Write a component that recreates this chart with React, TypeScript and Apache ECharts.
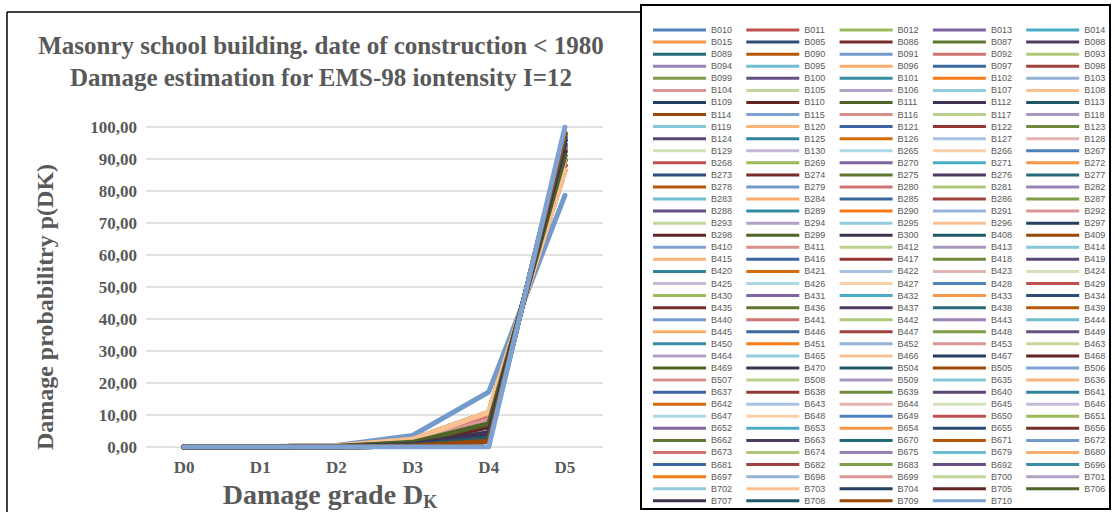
import React, { useEffect, useRef } from 'react';
import * as echarts from 'echarts';

const damageGrades = ['D0', 'D1', 'D2', 'D3', 'D4', 'D5'];

const buildings = [
  'B010', 'B011', 'B012', 'B013', 'B014',
  'B015', 'B085', 'B086', 'B087', 'B088',
  'B089', 'B090', 'B091', 'B092', 'B093',
  'B094', 'B095', 'B096', 'B097', 'B098',
  'B099', 'B100', 'B101', 'B102', 'B103',
  'B104', 'B105', 'B106', 'B107', 'B108',
  'B109', 'B110', 'B111', 'B112', 'B113',
  'B114', 'B115', 'B116', 'B117', 'B118',
  'B119', 'B120', 'B121', 'B122', 'B123',
  'B124', 'B125', 'B126', 'B127', 'B128',
  'B129', 'B130', 'B265', 'B266', 'B267',
  'B268', 'B269', 'B270', 'B271', 'B272',
  'B273', 'B274', 'B275', 'B276', 'B277',
  'B278', 'B279', 'B280', 'B281', 'B282',
  'B283', 'B284', 'B285', 'B286', 'B287',
  'B288', 'B289', 'B290', 'B291', 'B292',
  'B293', 'B294', 'B295', 'B296', 'B297',
  'B298', 'B299', 'B300', 'B408', 'B409',
  'B410', 'B411', 'B412', 'B413', 'B414',
  'B415', 'B416', 'B417', 'B418', 'B419',
  'B420', 'B421', 'B422', 'B423', 'B424',
  'B425', 'B426', 'B427', 'B428', 'B429',
  'B430', 'B431', 'B432', 'B433', 'B434',
  'B435', 'B436', 'B437', 'B438', 'B439',
  'B440', 'B441', 'B442', 'B443', 'B444',
  'B445', 'B446', 'B447', 'B448', 'B449',
  'B450', 'B451', 'B452', 'B453', 'B463',
  'B464', 'B465', 'B466', 'B467', 'B468',
  'B469', 'B470', 'B504', 'B505', 'B506',
  'B507', 'B508', 'B509', 'B635', 'B636',
  'B637', 'B638', 'B639', 'B640', 'B641',
  'B642', 'B643', 'B644', 'B645', 'B646',
  'B647', 'B648', 'B649', 'B650', 'B651',
  'B652', 'B653', 'B654', 'B655', 'B656',
  'B662', 'B663', 'B670', 'B671', 'B672',
  'B673', 'B674', 'B675', 'B679', 'B680',
  'B681', 'B682', 'B683', 'B692', 'B696',
  'B697', 'B698', 'B699', 'B700', 'B701',
  'B702', 'B703', 'B704', 'B705', 'B706',
  'B707', 'B708', 'B709', 'B710',
];

// Damage distributions p(D0..D5) in %
const damageProfiles = [
  [0.0, 0.0, 0.02, 0.3, 1.8, 97.88],
  [0.0, 0.0, 0.03, 0.45, 2.7, 96.82],
  [0.0, 0.01, 0.05, 0.6, 3.5, 95.84],
  [0.0, 0.01, 0.07, 0.8, 4.5, 94.62],
  [0.0, 0.01, 0.09, 1.0, 5.4, 93.5],
  [0.0, 0.02, 0.12, 1.2, 6.3, 92.36],
  [0.0, 0.02, 0.15, 1.45, 7.3, 91.08],
  [0.0, 0.03, 0.19, 1.75, 8.4, 89.63],
  [0.0, 0.04, 0.24, 2.1, 9.6, 88.02],
  [0.0, 0.05, 0.3, 2.4, 10.8, 86.45],
  [0.0, 0.05, 0.5, 3.6, 17.2, 78.65],
  [0.0, 0.0, 0.0, 0.0, 0.0, 100.0],
];

// Which distribution each building follows (same order as buildings)
const profileOfBuilding = [
  4, 7, 2, 5, 1,
  8, 0, 6, 3, 9,
  2, 5, 4, 8, 1,
  6, 3, 7, 0, 9,
  5, 2, 1, 4, 8,
  7, 3, 6, 0, 9,
  1, 5, 2, 8, 4,
  3, 6, 7, 9, 0,
  2, 4, 1, 8, 5,
  6, 3, 9, 0, 7,
  4, 2, 8, 5, 1,
  7, 9, 3, 0, 6,
  2, 8, 5, 4, 1,
  0, 3, 7, 9, 6,
  1, 8, 4, 2, 5,
  3, 6, 0, 9, 7,
  8, 4, 2, 5, 1,
  6, 3, 7, 0, 9,
  2, 5, 8, 4, 1,
  9, 3, 6, 7, 0,
  1, 4, 2, 8, 5,
  3, 6, 9, 0, 7,
  8, 2, 5, 4, 1,
  6, 7, 3, 9, 0,
  2, 8, 4, 5, 1,
  9, 3, 7, 6, 0,
  1, 4, 2, 8, 5,
  3, 6, 9, 0, 7,
  8, 2, 5, 4, 1,
  7, 6, 3, 9, 0,
  2, 8, 4, 5, 1,
  0, 3, 9, 6, 7,
  1, 9, 2, 8, 5,
  3, 4, 6, 0, 7,
  8, 2, 5, 4, 10,
  8, 6, 3, 1, 9,
  0, 5, 6, 4, 2,
  0, 3, 7, 6, 5,
  4, 9, 2, 5, 6,
  3, 1, 0, 11,
];

const seriesColors = [
  '#4F81BD', '#C0504D', '#9BBB59', '#8064A2', '#4BACC6', '#F79646',
  '#2C4D75', '#772C2A', '#5F7530', '#4D3B62', '#276A7C', '#B65708',
  '#729ACA', '#CD7371', '#AFC97A', '#9983B5', '#6FBDD1', '#F9AB6B',
  '#3A679C', '#A0413E', '#7E9D48', '#664F83', '#358DA4', '#F57B17',
  '#95B3D7', '#D99694', '#C3D69B', '#B2A1C7', '#93CDDD', '#FAC090',
  '#243F60', '#632523', '#4F6228', '#3F3151', '#205867', '#984807',
  '#7EA3D3', '#D88E8C', '#B9CF8C', '#A898C0', '#85C6D8', '#FBB57A',
  '#3B64A0', '#933835', '#6E8A3D', '#5A4676', '#31849B', '#D76A0C',
  '#A9C1E2', '#E4B3B2', '#D3E1BA', '#C4B9D6', '#ACD9E5', '#FBCFA8',
];

const TEXT = '#595959';
const SERIF = '"Liberation Serif", "Times New Roman", serif';

export default function App() {
  const ref = useRef<HTMLDivElement>(null);

  useEffect(() => {
    if (!ref.current) return;
    const chart = echarts.init(ref.current, undefined, { renderer: 'svg' });

    const series = buildings.map((name, i) => ({
      name,
      type: 'line',
      data: damageProfiles[profileOfBuilding[i]],
      symbol: 'none',
      color: seriesColors[i % seriesColors.length],
      lineStyle: { width: 5, cap: 'round', join: 'round' },
      emphasis: { disabled: true },
    }));

    chart.setOption({
      animation: false,
      backgroundColor: '#ffffff',
      grid: { left: 146, right: 512, top: 127, bottom: 65, containLabel: false },
      xAxis: {
        type: 'category',
        data: damageGrades,
        boundaryGap: true,
        axisLine: { show: false },
        axisTick: { show: false },
        axisLabel: {
          color: TEXT,
          fontFamily: SERIF,
          fontWeight: 'bold',
          fontSize: 17,
          margin: 12,
        },
      },
      yAxis: {
        type: 'value',
        min: 0,
        max: 100,
        interval: 10,
        axisLine: { show: false },
        axisTick: { show: false },
        splitLine: { lineStyle: { color: '#D9D9D9', width: 1.5 } },
        axisLabel: {
          color: TEXT,
          fontFamily: SERIF,
          fontWeight: 'bold',
          fontSize: 17,
          margin: 9,
          formatter: (v: number) => v.toFixed(2).replace('.', ','),
        },
      },
      legend: {
        left: 653,
        top: 24,
        width: 470,
        padding: 0,
        itemGap: 0,
        icon: 'rect',
        itemWidth: 53,
        itemHeight: 3,
        selectedMode: false,
        itemStyle: { borderWidth: 0 },
        textStyle: {
          color: TEXT,
          fontFamily: '"Liberation Sans", Arial, sans-serif',
          fontSize: 9,
          width: 35.3,
          lineHeight: 12.07,
        },
      },
      graphic: [
        { type: 'line', shape: { x1: 7, y1: 12, x2: 641, y2: 12 }, style: { stroke: '#000', lineWidth: 1.5 } },
        { type: 'line', shape: { x1: 7, y1: 12, x2: 7, y2: 512 }, style: { stroke: '#000', lineWidth: 1.5 } },
        {
          type: 'rect',
          shape: { x: 641, y: 5, width: 469, height: 504 },
          style: { fill: 'none', stroke: '#000', lineWidth: 2 },
          z: -1,
        },
        {
          type: 'text',
          x: 321,
          y: 61,
          style: {
            text: 'Masonry school building. date of construction < 1980\nDamage estimation for EMS-98 iontensity I=12',
            fill: TEXT,
            font: `bold 25px ${SERIF}`,
            lineHeight: 32,
            align: 'center',
            verticalAlign: 'middle',
          },
        },
        {
          type: 'text',
          x: 45,
          y: 307,
          rotation: Math.PI / 2,
          style: {
            text: 'Damage probabilitry p(DK)',
            fill: TEXT,
            font: `bold 24px ${SERIF}`,
            align: 'center',
            verticalAlign: 'middle',
          },
        },
        {
          type: 'text',
          x: 330,
          y: 494,
          style: {
            text: '{a|Damage grade D}{b|K}',
            align: 'center',
            verticalAlign: 'middle',
            rich: {
              a: { fill: TEXT, fontFamily: SERIF, fontWeight: 'bold', fontSize: 28, lineHeight: 30 },
              b: { fill: TEXT, fontFamily: SERIF, fontWeight: 'bold', fontSize: 18, lineHeight: 30, padding: [16, 0, 0, 0] },
            },
          },
        },
      ],
      series,
    });

    return () => chart.dispose();
  }, []);

  return <div ref={ref} style={{ position: 'fixed', left: 0, top: 0, width: 1115, height: 512 }} />;
}
